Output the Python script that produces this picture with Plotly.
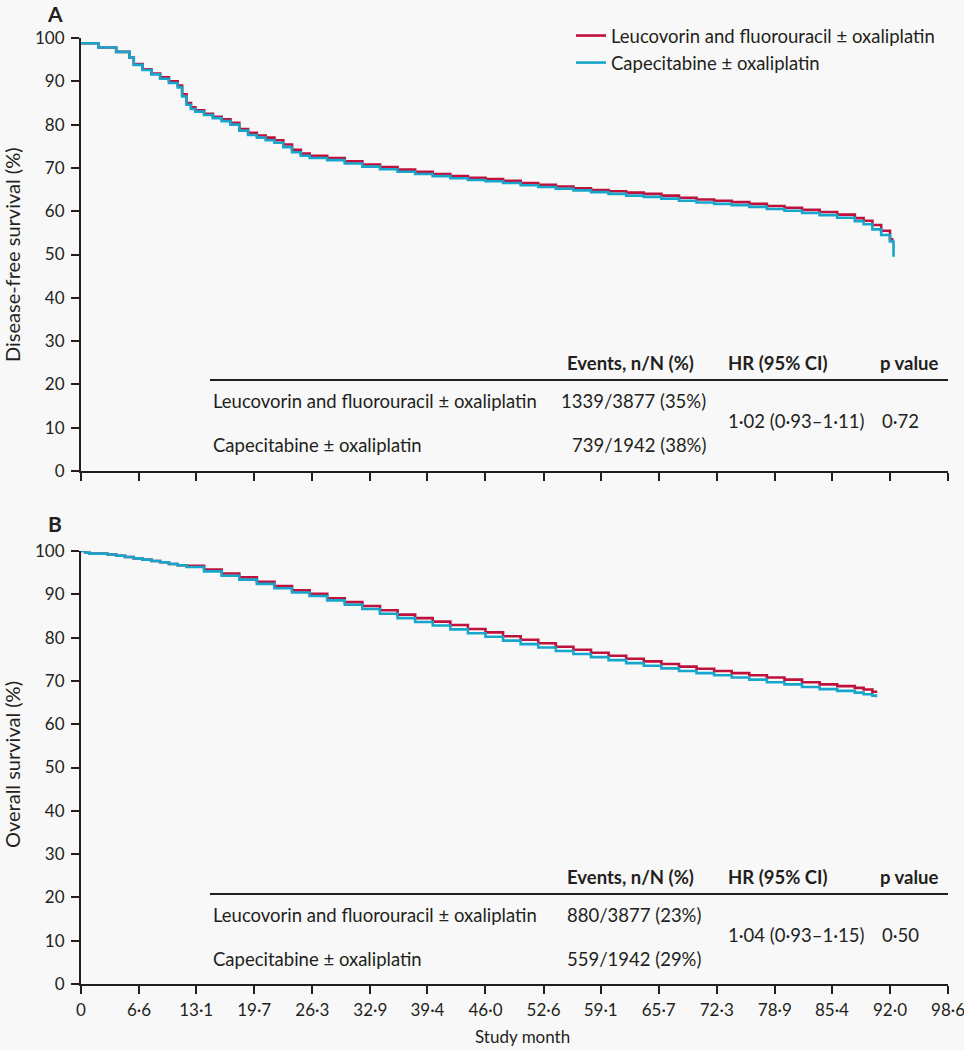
# Kaplan-Meier curves: disease-free survival (A) and overall survival (B)

import plotly.graph_objects as go

W, H = 964, 1050
INK = "#231f20"
RED = "#c0103c"
CYAN = "#17a6cb"
BG = "#f8f8f8"
FONT = "Lato, 'Open Sans', sans-serif"

arm_names = ["Leucovorin and fluorouracil ± oxaliplatin", "Capecitabine ± oxaliplatin"]

# month axis ticks (labels use the middle dot as decimal point)
month_ticks = [0, 6.6, 13.1, 19.7, 26.3, 32.9, 39.4, 46.0, 52.6, 59.1, 65.7, 72.3, 78.9, 85.4, 92.0, 98.6]
month_labels = ["0", "6·6", "13·1", "19·7", "26·3", "32·9", "39·4", "46·0", "52·6",
                "59·1", "65·7", "72·3", "78·9", "85·4", "92·0", "98·6"]
pct_ticks = [0, 10, 20, 30, 40, 50, 60, 70, 80, 90, 100]

# panel A - disease-free survival (%)
dfs_month = [0, 2, 4, 5.5, 6, 7, 8, 9, 10, 11, 11.5, 12, 12.5, 13,
             14, 15, 16, 17, 18, 19, 20, 21, 22, 23, 24, 25, 26,
             28, 30, 32, 34, 36, 38, 40, 42, 44, 46, 48, 50, 52, 54, 56, 58, 60,
             62, 64, 66, 68, 70, 72, 74, 76, 78, 80, 82, 84, 86, 88,
             89, 90, 91, 92, 92.4]
dfs_leuco = [98.8, 97.8, 96.8, 95.5, 94.0, 92.8, 91.8, 90.9, 90.0, 89.0, 87.0, 85.0, 84.0, 83.3,
             82.5, 81.8, 81.2, 80.4, 79.0, 78.1, 77.5, 77.0, 76.4, 75.4, 74.2, 73.3, 72.8,
             72.3, 71.5, 70.8, 70.2, 69.6, 69.1, 68.6, 68.1, 67.7, 67.4, 67.0, 66.5, 66.1, 65.7, 65.3, 64.9, 64.6,
             64.3, 64.0, 63.6, 63.1, 62.7, 62.4, 62.1, 61.7, 61.2, 60.8, 60.3, 59.8, 59.2, 58.4,
             57.8, 56.8, 55.5, 53.5, 53.5]
dfs_cape = [98.8, 97.8, 96.8, 95.5, 93.8, 92.6, 91.6, 90.6, 89.6, 88.6, 86.5, 84.6, 83.6, 83.0,
            82.2, 81.5, 80.8, 80.0, 78.6, 77.6, 77.0, 76.4, 75.8, 74.8, 73.6, 72.8, 72.3,
            71.8, 71.0, 70.3, 69.7, 69.1, 68.6, 68.1, 67.6, 67.2, 66.9, 66.5, 66.0, 65.6, 65.2, 64.8, 64.4, 64.0,
            63.6, 63.3, 62.9, 62.4, 62.0, 61.7, 61.4, 61.0, 60.5, 60.1, 59.6, 59.1, 58.5, 57.7,
            57.0, 55.8, 54.5, 53.0, 49.5]

# panel B - overall survival (%)
os_month = [0, 0.5, 1, 2, 3, 4, 5, 6, 7, 8, 9, 10, 11, 12,
            14, 16, 18, 20, 22, 24, 26, 28, 30, 32, 34, 36, 38, 40, 42, 44, 46, 48, 50,
            52, 54, 56, 58, 60, 62, 64, 66, 68, 70, 72, 74, 76, 78, 80, 82, 84, 86, 88,
            89, 90, 90.4]
os_leuco = [100, 99.6, 99.4, 99.4, 99.2, 98.9, 98.6, 98.3, 98.0, 97.7, 97.4, 97.0, 96.7, 96.6,
            95.7, 94.8, 93.9, 92.9, 91.9, 90.9, 90.1, 89.1, 88.2, 87.3, 86.3, 85.3, 84.5, 83.7, 82.9,
            82.0, 81.2, 80.3, 79.5, 78.7, 77.9, 77.2, 76.5, 75.8, 75.1, 74.5, 73.9, 73.3, 72.8, 72.3,
            71.8, 71.3, 70.8, 70.3, 69.7, 69.2, 68.8, 68.4,
            68.0, 67.5, 67.2]
os_cape = [100, 99.6, 99.4, 99.4, 99.2, 98.9, 98.6, 98.3, 98.0, 97.7, 97.4, 97.0, 96.7, 96.3,
           95.3, 94.3, 93.4, 92.4, 91.4, 90.4, 89.6, 88.6, 87.6, 86.6, 85.5, 84.5, 83.6, 82.8, 81.9,
           81.0, 80.2, 79.3, 78.5, 77.7, 76.9, 76.2, 75.5, 74.8, 74.1, 73.5, 72.9, 72.3, 71.8, 71.3,
           70.8, 70.3, 69.7, 69.2, 68.6, 68.1, 67.7, 67.3,
           66.9, 66.6, 66.2]

# inset tables
table_head = ["Events, n/N (%)", "HR (95% CI)", "p value"]
events_a = ["1339/3877 (35%)", "739/1942 (38%)"]
hr_a, p_a = "1·02 (0·93–1·11)", "0·72"
events_b = ["880/3877 (23%)", "559/1942 (29%)"]
hr_b, p_b = "1·04 (0·93–1·15)", "0·50"


def fx(x):
    return x / W


def fy(y):
    return 1 - y / H


fig = go.Figure()

for xa, ya, months, series, show in [("x", "y", dfs_month, [dfs_leuco, dfs_cape], True),
                                     ("x2", "y2", os_month, [os_leuco, os_cape], False)]:
    for name, vals, col in zip(arm_names, series, [RED, CYAN]):
        fig.add_trace(go.Scatter(
            x=months, y=vals, mode="lines", name=name,
            line=dict(color=col, width=2.6, shape="hv"),
            xaxis=xa, yaxis=ya, showlegend=show, legendgroup=name,
        ))

axis_style = dict(
    showline=True, linecolor=INK, linewidth=2,
    ticks="outside", ticklen=8, tickwidth=2, tickcolor=INK,
    showgrid=False, zeroline=False, automargin=False,
    tickfont=dict(family=FONT, size=17, color=INK),
)

x_dom = [fx(81), fx(948.2)]
x_rng = [0, 98.62]

fig.update_layout(
    width=W, height=H,
    margin=dict(l=0, r=0, t=0, b=0, autoexpand=False),
    paper_bgcolor=BG, plot_bgcolor=BG,
    font=dict(family=FONT, color=INK),
    xaxis=dict(axis_style, domain=x_dom, range=x_rng, anchor="y",
               tickvals=month_ticks, showticklabels=False),
    yaxis=dict(axis_style, domain=[fy(471), fy(38)], range=[0, 100], anchor="x",
               tickvals=pct_ticks, ticklabelstandoff=3),
    xaxis2=dict(axis_style, domain=x_dom, range=x_rng, anchor="y2",
                tickvals=month_ticks, ticktext=month_labels, ticklabelstandoff=2,
                ticklabeloverflow="allow"),
    yaxis2=dict(axis_style, domain=[fy(984), fy(551)], range=[0, 100], anchor="x2",
                tickvals=pct_ticks, ticklabelstandoff=3),
    legend=dict(x=fx(571), y=fy(17), xanchor="left", yanchor="top",
                bgcolor="rgba(0,0,0,0)", font=dict(family=FONT, size=18.5, color=INK),
                traceorder="grouped", tracegroupgap=0),
    showlegend=True,
)

ann = []
# panel letters
ann.append(dict(x=fx(55), y=fy(14), text="<b>A</b>", font=dict(size=21)))
ann.append(dict(x=fx(55), y=fy(523), text="<b>B</b>", font=dict(size=21)))
# axis titles
ann.append(dict(x=fx(12), y=fy(255), text="Disease-free survival (%)", textangle=-90, font=dict(size=20)))
ann.append(dict(x=fx(12), y=fy(765), text="Overall survival (%)", textangle=-90, font=dict(size=20)))
ann.append(dict(x=fx(522), y=fy(1036), text="Study month", font=dict(size=17)))

# tables
TS = 18.5
for top, events, hr, pv, ev_anchor in [(363, events_a, hr_a, p_a, "right"),
                                        (877, events_b, hr_b, p_b, "left")]:
    ann.append(dict(x=fx(565), y=fy(top), text="<b>" + table_head[0] + "</b>", xanchor="left", font=dict(size=TS)))
    ann.append(dict(x=fx(726), y=fy(top), text="<b>" + table_head[1] + "</b>", xanchor="left", font=dict(size=TS)))
    ann.append(dict(x=fx(878), y=fy(top), text="<b>" + table_head[2] + "</b>", xanchor="left", font=dict(size=TS)))
    for i, arm in enumerate(arm_names):
        yy = top + 38 + i * 44
        ann.append(dict(x=fx(211), y=fy(yy), text=arm, xanchor="left", font=dict(size=TS)))
        ex = 708 if ev_anchor == "right" else 565
        ann.append(dict(x=fx(ex), y=fy(yy), text=events[i], xanchor=ev_anchor, font=dict(size=TS)))
    ann.append(dict(x=fx(726), y=fy(top + 58), text=hr, xanchor="left", font=dict(size=TS)))
    ann.append(dict(x=fx(880), y=fy(top + 58), text=pv, xanchor="left", font=dict(size=TS)))
    fig.add_shape(type="line", xref="paper", yref="paper",
                  x0=fx(210), x1=fx(948), y0=fy(top + 17), y1=fy(top + 17),
                  line=dict(color=INK, width=2))

for a in ann:
    a.setdefault("xanchor", "center")
    a.update(xref="paper", yref="paper", yanchor="middle", showarrow=False)
    a["font"] = dict(a["font"], family=FONT, color=INK)
    fig.add_annotation(**a)

fig.write_html(
    "out.html",
    config={"displayModeBar": False},
    post_script="document.body.style.margin='0';document.body.style.overflow='hidden';"
                "document.body.style.background='" + BG + "';",
)
